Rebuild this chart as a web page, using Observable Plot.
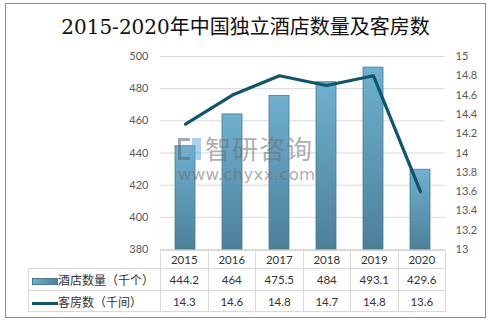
<!DOCTYPE html>
<html><head><meta charset="utf-8">
<script src="https://cdn.jsdelivr.net/npm/d3@7"></script>
<script src="https://cdn.jsdelivr.net/npm/@observablehq/plot@0.6"></script>
<style>
body{margin:0;background:#fff;}
#wrap{position:relative;width:491px;height:321px;overflow:hidden;font-family:Lato,"Noto Sans CJK SC",sans-serif;background:#fff;}
#frame{position:absolute;left:5px;top:3px;width:479px;height:313px;border:1px solid #8c8c8c;box-sizing:content-box;}
#title{position:absolute;left:0;width:491px;top:15px;text-align:center;font-size:20px;line-height:24px;font-family:"DejaVu Serif","Noto Sans CJK SC",serif;color:#111;}
#chart{position:absolute;left:0;top:40px;}
#tbl{position:absolute;left:28px;top:250px;border-collapse:collapse;table-layout:fixed;font-size:11.5px;color:#333;}
#tbl td{border:1px solid #d9d9d9;text-align:center;padding:0;white-space:nowrap;}
#tbl td.blank{border-top:none;border-left:none;}
#tbl td.leg{text-align:left;font-family:"Noto Sans CJK SC",sans-serif;font-size:12px;border-left:1px solid #d9d9d9;}
.sw{display:inline-block;width:26px;vertical-align:middle;margin-left:3px;margin-right:0;}
#wm{position:absolute;left:176px;top:132px;opacity:0.55;color:#6f6f6f;pointer-events:none;}
#wm .cn{position:absolute;left:29px;top:0;font-family:"Noto Sans CJK SC",sans-serif;font-size:26px;line-height:32px;letter-spacing:1px;white-space:nowrap;}
#wm .en{position:absolute;left:2px;top:34px;font-family:"DejaVu Sans",sans-serif;font-size:16.5px;line-height:18px;letter-spacing:0.3px;white-space:nowrap;}
#wm .logo1{position:absolute;left:2px;top:6px;width:12px;height:22px;border:3px solid #56647a;border-right:none;box-sizing:border-box;}
#wm .logo2{position:absolute;left:16px;top:6px;width:9px;height:22px;background:#6aa8e0;}
</style></head>
<body>
<div id="wrap">
  <div id="frame"></div>
  <div id="title">2015-2020年中国独立酒店数量及客房数</div>
  <div id="chart"></div>
  <table id="tbl"></table>
  <div id="wm"><div class="logo1"></div><div class="logo2"></div><div class="cn">智研咨询</div><div class="en">www.chyxx.com</div></div>
</div>
<script>
const years = ["2015","2016","2017","2018","2019","2020"];
const hotels = [444.2, 464, 475.5, 484, 493.1, 429.6];
const rooms = [14.3, 14.6, 14.8, 14.7, 14.8, 13.6];
const leftTicks = [380, 400, 420, 440, 460, 480, 500];
const rightTicks = [13, 13.2, 13.4, 13.6, 13.8, 14, 14.2, 14.4, 14.6, 14.8, 15];
const seriesNames = ["酒店数量（千个）", "客房数（千间）"];

const leftDomain = [leftTicks[0], leftTicks[leftTicks.length - 1]];
const rightDomain = [rightTicks[0], rightTicks[rightTicks.length - 1]];
const toLeft = v => leftDomain[0] + (v - rightDomain[0]) * (leftDomain[1] - leftDomain[0]) / (rightDomain[1] - rightDomain[0]);
const fromLeft = v => rightDomain[0] + (v - leftDomain[0]) * (rightDomain[1] - rightDomain[0]) / (leftDomain[1] - leftDomain[0]);

const rows = years.map((year, i) => ({year, hotels: hotels[i], rooms: rooms[i]}));

const barTop = "#70b0d0", barBottom = "#4c8099", lineColor = "#0e5670";

const defs = () => {
  const ns = "http://www.w3.org/2000/svg";
  const d = document.createElementNS(ns, "defs");
  d.innerHTML = `<linearGradient id="barGrad" x1="0" y1="0" x2="0" y2="1">
    <stop offset="0" stop-color="${barTop}"/><stop offset="1" stop-color="${barBottom}"/></linearGradient>`;
  return d;
};

const chart = Plot.plot({
  width: 491, height: 215,
  marginTop: 16, marginBottom: 6, marginLeft: 160, marginRight: 46,
  x: {domain: years, paddingInner: 0.58, paddingOuter: 0.29, axis: null},
  y: {domain: leftDomain, axis: null},
  style: {fontFamily: "Lato, sans-serif", fontSize: "11px", color: "#595959", background: "transparent", overflow: "visible"},
  marks: [
    defs,
    Plot.gridY(leftTicks, {stroke: "#d9d9d9", strokeOpacity: 1}),
    Plot.axisY(leftTicks, {anchor: "left", tickSize: 0, tickPadding: 12, label: null, tickFormat: d => String(d), fill: "#595959"}),
    Plot.axisY(rightTicks.map(toLeft), {anchor: "right", tickSize: 0, tickPadding: 10, label: null,
      tickFormat: d => String(+fromLeft(d).toFixed(1)), fill: "#595959"}),
    Plot.barY(rows, {x: "year", y1: leftDomain[0], y2: "hotels", fill: "url(#barGrad)", stroke: "#4a7a92", strokeWidth: 0.8}),
    Plot.line(rows, {x: "year", y: d => toLeft(d.rooms), stroke: lineColor, strokeWidth: 3.2, strokeLinejoin: "round"})
  ]
});
document.getElementById("chart").appendChild(chart);

// data table below the chart
const tbl = document.getElementById("tbl");
const colgroup = document.createElement("colgroup");
colgroup.innerHTML = `<col style="width:132px">` + years.map(() => `<col style="width:47.5px">`).join("");
tbl.appendChild(colgroup);
const mk = (cells, h) => { const tr = document.createElement("tr"); tr.style.height = h + "px"; tr.innerHTML = cells; tbl.appendChild(tr); };
mk(`<td class="blank"></td>` + years.map(y => `<td>${y}</td>`).join(""), 18);
mk(`<td class="leg"><span class="sw" style="height:7px;background:linear-gradient(90deg,${barTop},${barBottom});border:1px solid #4a7a92;box-sizing:border-box"></span>${seriesNames[0]}</td>` + hotels.map(v => `<td>${v}</td>`).join(""), 22);
mk(`<td class="leg"><span class="sw" style="height:3px;background:${lineColor}"></span>${seriesNames[1]}</td>` + rooms.map(v => `<td>${v}</td>`).join(""), 21);
</script>
</body></html>
